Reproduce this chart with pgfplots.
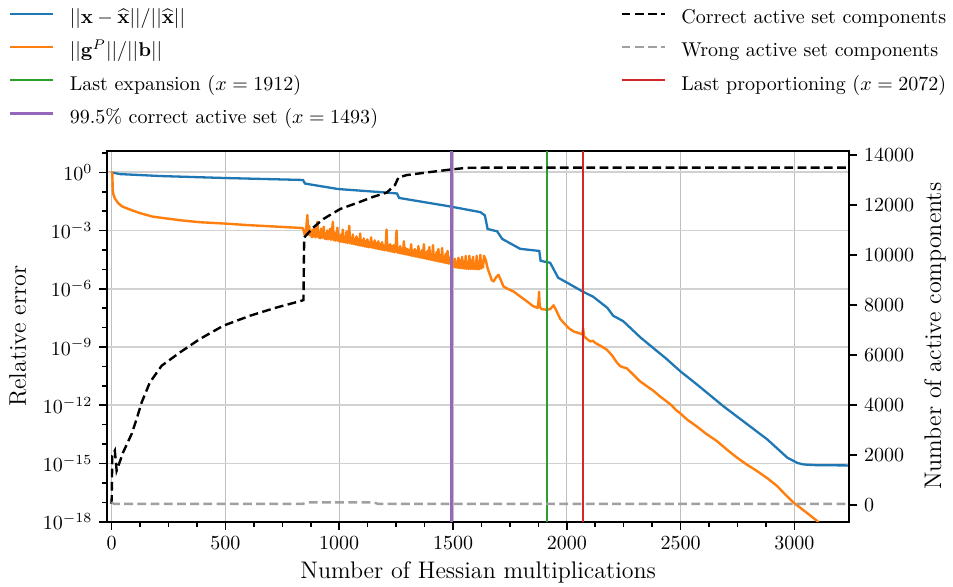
\documentclass[border=0pt]{standalone}
\usepackage{pgfplots}
\pgfplotsset{compat=1.18}
\usepackage{pgfplotstable}

\definecolor{tabblue}{HTML}{1F77B4}
\definecolor{taborange}{HTML}{FF7F0E}
\definecolor{tabgreen}{HTML}{2CA02C}
\definecolor{tabpurple}{HTML}{9467BD}
\definecolor{tabred}{HTML}{D62728}
\definecolor{wronggray}{HTML}{A0A0A0}

% relative error of the iterate (log10 of the value)
\pgfplotstableread{
x ly
0 0.0
36 -0.09
212 -0.19
490 -0.29
828 -0.39
841 -0.40
850 -0.58
995 -0.86
1206 -1.04
1254 -1.09
1263 -1.32
1488 -1.76
1620 -2.05
1640 -2.22
1652 -2.92
1694 -3.04
1716 -3.43
1795 -3.94
1879 -4.05
1885 -4.56
1927 -4.66
1962 -5.43
2002 -5.69
2068 -6.13
2116 -6.41
2178 -6.98
2204 -7.39
2248 -7.67
2323 -8.50
2389 -9.14
2433 -9.56
2499 -10.25
2573 -10.94
2688 -12.05
2881 -13.76
2969 -14.70
3013 -14.97
3040 -15.05
3100 -15.09
3246 -15.10
}\errx

% relative projected gradient (log10 of the value)
\pgfplotstableread{
x ly
0 0.05
3 -0.05
5 -0.90
8 -1.15
14 -1.34
29 -1.59
45 -1.75
66 -1.85
95 -1.98
124 -2.10
180 -2.28
242 -2.38
310 -2.48
388 -2.57
498 -2.64
600 -2.72
682 -2.77
760 -2.82
840 -2.87
845 -3.05
850 -3.30
855 -2.90
860 -2.20
864 -3.20
868 -2.75
872 -3.25
876 -3.00
880 -3.35
884 -2.95
888 -3.30
892 -2.85
896 -3.35
900 -3.05
904 -2.55
908 -3.35
912 -3.10
916 -3.40
920 -2.90
924 -3.38
928 -3.10
932 -2.80
936 -3.42
940 -3.15
944 -3.45
948 -3.00
952 -3.45
956 -3.20
960 -2.90
964 -3.48
968 -3.15
972 -2.55
976 -3.50
980 -3.10
984 -3.52
988 -3.25
992 -2.85
996 -3.55
1000 -3.30
1004 -3.58
1008 -3.20
1012 -3.58
1016 -2.95
1020 -3.60
1024 -3.35
1028 -3.62
1032 -3.05
1036 -3.64
1040 -3.35
1044 -2.75
1048 -3.66
1052 -3.40
1056 -3.68
1060 -3.20
1064 -3.70
1068 -3.45
1072 -3.72
1076 -3.30
1080 -3.74
1084 -3.45
1088 -3.76
1092 -3.15
1096 -3.78
1100 -3.50
1104 -3.80
1108 -3.40
1112 -3.82
1116 -3.55
1120 -3.84
1124 -3.45
1128 -3.86
1132 -3.60
1136 -3.86
1140 -3.35
1144 -3.88
1148 -3.60
1152 -3.90
1156 -3.50
1160 -3.92
1164 -3.65
1168 -3.94
1172 -3.55
1176 -3.96
1180 -3.70
1184 -3.98
1188 -3.60
1192 -4.00
1196 -3.75
1200 -4.02
1204 -3.80
1208 -2.95
1212 -4.04
1216 -3.75
1220 -4.06
1224 -3.70
1228 -4.08
1232 -3.80
1236 -4.10
1240 -3.75
1244 -4.12
1248 -3.85
1252 -3.00
1256 -4.14
1260 -3.90
1264 -4.16
1268 -3.80
1272 -4.18
1276 -3.95
1280 -4.20
1284 -3.55
1288 -4.22
1292 -3.90
1296 -4.24
1300 -3.95
1304 -4.26
1308 -4.00
1312 -4.28
1316 -3.70
1320 -4.30
1324 -4.05
1328 -4.32
1332 -3.95
1336 -4.34
1340 -4.05
1344 -4.36
1348 -3.80
1352 -4.38
1356 -4.10
1360 -4.40
1364 -4.00
1368 -4.42
1372 -3.70
1376 -4.44
1380 -4.15
1384 -4.46
1388 -4.05
1392 -4.48
1396 -3.85
1400 -4.50
1404 -4.20
1408 -4.52
1412 -3.75
1416 -4.54
1420 -4.25
1424 -4.56
1428 -4.10
1432 -4.58
1436 -3.95
1440 -4.60
1444 -4.30
1448 -4.62
1452 -3.90
1456 -4.64
1460 -4.35
1464 -4.66
1468 -4.20
1472 -4.68
1476 -4.05
1480 -4.70
1484 -4.40
1488 -4.72
1492 -4.30
1496 -4.85
1500 -4.55
1504 -4.88
1508 -4.45
1512 -4.90
1516 -4.60
1520 -4.92
1524 -4.40
1528 -4.93
1532 -4.55
1536 -4.94
1540 -4.35
1544 -4.95
1548 -4.60
1552 -4.96
1556 -4.30
1560 -4.97
1564 -4.65
1568 -4.98
1572 -4.30
1576 -4.98
1580 -4.55
1584 -4.98
1588 -4.35
1592 -4.98
1596 -4.70
1600 -4.99
1604 -4.30
1608 -4.99
1612 -4.60
1616 -4.99
1620 -4.25
1624 -4.95
1628 -4.60
1632 -4.90
1636 -4.30
1640 -4.40
1645 -4.55
1650 -4.85
1655 -5.05
1663 -5.30
1670 -5.55
1678 -5.62
1690 -5.40
1700 -5.28
1710 -5.55
1722 -5.88
1740 -6.00
1766 -6.14
1790 -6.35
1825 -6.65
1850 -6.88
1872 -6.99
1876 -6.60
1878 -6.15
1881 -6.90
1888 -7.04
1910 -7.08
1927 -7.05
1942 -6.85
1955 -7.15
1971 -7.55
1990 -7.80
2008 -8.02
2030 -8.20
2050 -8.27
2068 -8.35
2072 -8.05
2076 -8.45
2090 -8.60
2103 -8.71
2115 -8.68
2125 -8.79
2150 -8.95
2176 -9.14
2200 -9.45
2220 -9.80
2235 -9.99
2250 -10.05
2264 -10.10
2290 -10.40
2320 -10.75
2352 -11.02
2380 -11.25
2410 -11.55
2433 -11.75
2460 -12.00
2480 -12.25
2499 -12.42
2530 -12.75
2572 -13.10
2610 -13.45
2660 -13.85
2700 -14.25
2748 -14.70
2790 -15.05
2836 -15.39
2880 -15.75
2924 -16.16
2960 -16.60
2997 -17.02
3050 -17.50
3100 -17.96
3114 -18.15
}\gradp

% correct active set components
\pgfplotstableread{
x v
0 40
3 1970
14 2170
22 1370
51 2110
88 2840
110 3440
132 4100
168 4900
220 5570
300 6100
388 6640
491 7170
608 7570
725 7900
835 8170
843 8200
846 10700
886 11100
930 11440
1004 11840
1092 12130
1150 12330
1209 12500
1245 12800
1260 13100
1297 13200
1390 13310
1488 13420
1560 13490
1700 13500
3240 13500
}\correct

% wrong active set components
\pgfplotstableread{
x v
0 110
10 40
840 40
860 100
1150 100
1170 40
3240 40
}\wrong

\pgfplotsset{
  /pgf/number format/1000 sep={},
  every axis/.append style={
    scale only axis, width=370.85pt, height=185.5pt,
    at={(0,0)}, anchor=south west,
    xmin=-19, xmax=3240,
    scaled ticks=false,
    tick align=outside,
    major tick length=4pt, minor tick length=2.5pt,
    every tick/.style={black, line width=0.8pt},
    axis line style={-, line width=1pt},
    label style={font=\fontsize{12}{14}\selectfont},
    legend columns=1,
    legend cell align=left,
    legend image code/.code={\draw[#1] (0pt,2.5pt) -- (21.5pt,2.5pt);},
    legend style={draw=none, fill=none, inner sep=0pt, column sep=6.8pt,
      row sep=5.6pt, nodes={text height=7pt, text depth=2pt, inner sep=1pt},
      font=\normalsize},
  },
}

\begin{document}
\begin{tikzpicture}
\path[use as bounding box] (-53.65pt,-32.15pt) rectangle (422.85pt,260.85pt);

\begin{semilogyaxis}[
  ymin=1e-18, ymax=13,
  xtick={0,500,...,3000}, minor x tick num=3,
  ytick={1e-18,1e-15,1e-12,1e-9,1e-6,1e-3,1},
  minor ytick={1e-17,1e-16,1e-14,1e-13,1e-11,1e-10,1e-8,1e-7,1e-5,1e-4,1e-2,1e-1,10},
  xtick pos=bottom, ytick pos=left,
  grid=major,
  major x grid style={color=black!25, line width=0.6pt},
  major y grid style={color=black!18, line width=0.9pt},
  xlabel={Number of Hessian multiplications},
  ylabel={Relative error},
  xlabel style={at={(axis description cs:0.5,0)}, anchor=center, yshift=-25.5pt},
  ylabel style={at={(axis description cs:-0.1205,0.5)}, anchor=center},
  legend style={at={(axis description cs:0,1)}, anchor=north west,
    xshift=-49.65pt, yshift=71.7pt},
]
\addplot[tabblue, line width=1.15pt] table[x=x, y expr={10^(\thisrow{ly})}] {\errx};
\addlegendentry{$||\mathbf{x}-\widehat{\mathbf{x}}||/||\widehat{\mathbf{x}}||$}
\addplot[taborange, line width=1.2pt, line join=round] table[x=x, y expr={10^(\thisrow{ly})}] {\gradp};
\addlegendentry{$||\mathbf{g}^P||/||\mathbf{b}||$}
\addplot[tabgreen, line width=1pt] coordinates {(1912,1e-18) (1912,13)};
\addlegendentry{Last expansion ($x=1912$)}
\addplot[tabpurple, line width=1.4pt] coordinates {(1493,1e-18) (1493,13)};
\addlegendentry{99.5\% correct active set ($x=1493$)}
\end{semilogyaxis}

\begin{axis}[
  ymin=-675, ymax=14175,
  axis x line=none, axis y line*=right,
  ytick={0,2000,...,14000},
  ylabel={Number of active components},
  ylabel style={at={(axis description cs:1.116,0.5)}, anchor=center},
  legend style={at={(axis description cs:0,1)}, anchor=north west,
    xshift=256.35pt, yshift=71.7pt},
]
\addplot[black, line width=1.2pt, dash pattern=on 4.4pt off 2.2pt] table[x=x, y=v] {\correct};
\addlegendentry{Correct active set components}
\addplot[wronggray, line width=1.2pt, dash pattern=on 4.4pt off 2.2pt] table[x=x, y=v] {\wrong};
\addlegendentry{Wrong active set components}
\addplot[tabred, line width=1pt] coordinates {(2072,-675) (2072,14175)};
\addlegendentry{Last proportioning ($x=2072$)}
\end{axis}
\end{tikzpicture}
\end{document}
